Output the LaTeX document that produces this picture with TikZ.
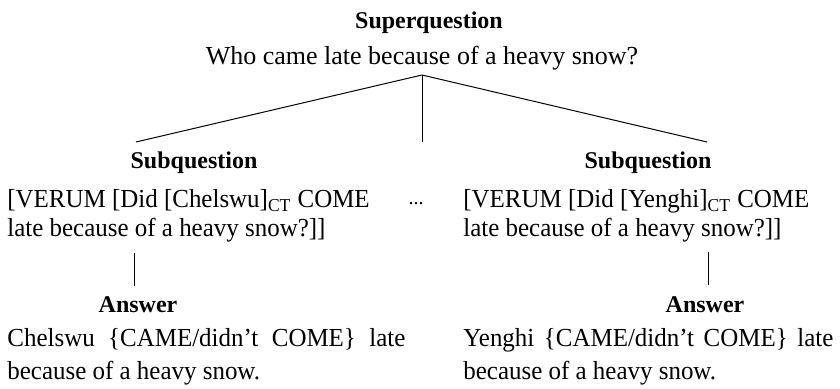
\documentclass[tikz,border=0pt]{standalone}
\usepackage{fontspec}
\setmainfont{Liberation Serif}
\newfontfamily\slimfont[FakeStretch=0.96]{Liberation Serif}
\tolerance=10000
\hyphenpenalty=10000

\begin{document}
\begin{tikzpicture}[
  x=0.5pt, y=-0.5pt,
  heading/.style={font=\bfseries\fontsize{12}{14}\selectfont,
              inner sep=0pt, anchor=base},
  qtext/.style={font=\slimfont\fontsize{13}{14.5}\selectfont,
              inner sep=0pt, anchor=base west, align=left},
  atext/.style={font=\slimfont\fontsize{13}{16.5}\selectfont,
              inner sep=0pt, anchor=base west, align=justify},
  link/.style={line width=0.5pt},
]
\useasboundingbox (0,0) rectangle (840,389);

% superquestion
\node[heading] (suptitle) at (429,29) {Superquestion};
\node[qtext, anchor=base, font=\fontsize{13}{14.5}\selectfont] (supq) at (422,65) {Who came late because of a heavy snow?};

% subquestions (base = second line)
\node[heading] (subLtitle) at (194,169) {Subquestion};
\node[qtext] (subLq) at (7,237) {[VERUM [Did [Chelswu]\textsubscript{CT} COME\\ late because of a heavy snow?]]};
\node[qtext, anchor=base, font=\fontsize{10}{12}\selectfont] (dots) at (416,205) {...};
\node[heading] (subRtitle) at (648,169) {Subquestion};
\node[qtext] (subRq) at (463,237) {[VERUM [Did [Yenghi]\textsubscript{CT} COME\\ late because of a heavy snow?]]};

% answers
\node[heading] (ansLtitle) at (138,313) {Answer};
\node[atext, text width=199pt] (ansLq) at (7,347) {Chelswu \{CAME/didn’t COME\} late because of a heavy snow.};
\node[heading] (ansRtitle) at (705,313) {Answer};
\node[atext, text width=185pt] (ansRq) at (463,347) {Yenghi \{CAME/didn’t COME\} late because of a heavy snow.};

% branches
\coordinate (br) at (422,75);
\coordinate (brL) at (136,142);
\coordinate (brM) at (422,142);
\coordinate (brR) at (707,142);
\draw[link] (br) -- (brL);
\draw[link] (br) -- (brM);
\draw[link] (br) -- (brR);

\coordinate (vLtop) at (134,253);
\coordinate (vLbot) at (134,286);
\coordinate (vRtop) at (708,252);
\coordinate (vRbot) at (708,285);
\draw[link] (vLtop) -- (vLbot);
\draw[link] (vRtop) -- (vRbot);
\end{tikzpicture}
\end{document}
